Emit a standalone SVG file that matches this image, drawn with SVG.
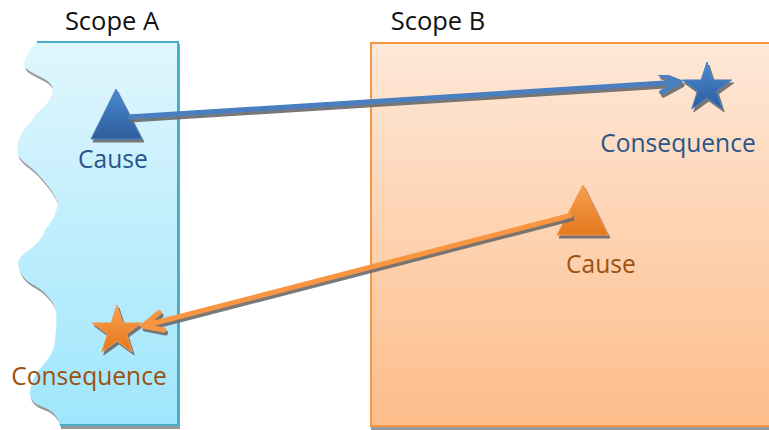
<svg xmlns="http://www.w3.org/2000/svg" width="769" height="430" viewBox="0 0 769 430">
  <defs>
    <style>
      .title { font-family: "Open Sans", "Liberation Sans", sans-serif; font-size: 25.5px; fill: #111111; text-anchor: middle; }
      .lbl { font-family: "Open Sans", "Liberation Sans", sans-serif; font-size: 24.6px; text-anchor: middle; }
      .blue-t { fill: #2a5589; }
      .orange-t { fill: #9e510f; }
      .link { fill: none; stroke-width: 5; stroke-linejoin: round; }
    </style>
    <linearGradient id="gA" x1="0" y1="0" x2="0" y2="1">
      <stop offset="0" stop-color="#e0f6fd"/>
      <stop offset="1" stop-color="#9fe6fc"/>
    </linearGradient>
    <linearGradient id="gB" x1="0" y1="0" x2="0" y2="1">
      <stop offset="0" stop-color="#fee8d8"/>
      <stop offset="1" stop-color="#fdbd8a"/>
    </linearGradient>
    <linearGradient id="gBlue" x1="0" y1="0" x2="0" y2="1">
      <stop offset="0" stop-color="#4a89d2"/>
      <stop offset="1" stop-color="#2d5d9c"/>
    </linearGradient>
    <linearGradient id="gOrange" x1="0" y1="0" x2="0" y2="1">
      <stop offset="0" stop-color="#f9a04f"/>
      <stop offset="1" stop-color="#e3781d"/>
    </linearGradient>
    <filter id="sh" x="-20%" y="-20%" width="140%" height="160%">
      <feDropShadow dx="2" dy="3" stdDeviation="0.7" flood-color="#6a6a6a" flood-opacity="0.9"/>
    </filter>
    <filter id="boxsh" x="-5%" y="-5%" width="110%" height="110%">
      <feDropShadow dx="1" dy="3" stdDeviation="0.6" flood-color="#7f7f7f" flood-opacity="0.8"/>
    </filter>
    <path id="star" d="M0,-26 L5.88,-8.09 L24.73,-8.03 L9.51,3.09 L15.28,21.03 L0,10 L-15.28,21.03 L-9.51,3.09 L-24.73,-8.03 L-5.88,-8.09 Z"/>
    <marker id="headBlue" markerUnits="userSpaceOnUse" orient="auto" markerWidth="40" markerHeight="40" refX="0" refY="0" viewBox="-30 -20 40 40" overflow="visible">
      <path d="M-19,-9 L0,0 L-19,9" fill="none" stroke="#4a7ebf" stroke-width="5" stroke-linecap="round" stroke-linejoin="round"/>
    </marker>
    <marker id="headOrange" markerUnits="userSpaceOnUse" orient="auto" markerWidth="40" markerHeight="40" refX="0" refY="0" viewBox="-30 -20 40 40" overflow="visible">
      <path d="M-19,-9 L0,0 L-19,9" fill="none" stroke="#f7953f" stroke-width="5" stroke-linecap="round" stroke-linejoin="round"/>
    </marker>
  </defs>

  <rect width="769" height="430" fill="#ffffff"/>

  <!-- Scope A: torn-edge panel -->
  <g id="scope-a">
    <g filter="url(#boxsh)">
      <path d="M37,42 H178 V425 H60 C58,416 52,410 43,407 C34,404 29,398 30,393 C31,386 32,380 37,372 C45,364 55,352 55,340 C56,330 57,322 56,312 C55,302 45,292 37,287 C28,282 19,276 18,263 C20,255 28,250 33,247 C38,243 44,235 45,230 C50,224 56,216 58,203 C54,192 45,182 37,173 C30,166 22,162 18,155 C16,146 18,140 23,131 C28,124 34,119 37,113 C45,106 52,100 53,88 C50,80 40,77 33,73 C26,69 22,66 25,60 C28,52 33,46 37,42 Z" fill="url(#gA)"/>
      <path d="M37,42 H178 V425 H60" fill="none" stroke="#4aacc6" stroke-width="2"/>
    </g>
    <text class="title" x="112" y="30">Scope A</text>
  </g>

  <!-- Scope B: plain panel running off the right edge -->
  <g id="scope-b">
    <rect x="371" y="43" width="410" height="383" fill="url(#gB)" stroke="#f79646" stroke-width="2" filter="url(#boxsh)"/>
    <text class="title" x="438" y="30">Scope B</text>
  </g>

  <!-- Nodes -->
  <g id="cause-a">
    <path d="M116,89 L142,139 L91,139 Z" fill="url(#gBlue)" stroke="#4f81bd" stroke-width="1" filter="url(#sh)"/>
    <text class="lbl blue-t" x="113" y="168">Cause</text>
  </g>

  <g id="consequence-b">
    <use href="#star" transform="translate(707,88)" fill="url(#gBlue)" stroke="#4f81bd" stroke-width="1" filter="url(#sh)"/>
    <text class="lbl blue-t" x="678" y="152">Consequence</text>
  </g>

  <g id="cause-b">
    <path d="M583,185 L608,235 L557,235 Z" fill="url(#gOrange)" stroke="#f79646" stroke-width="1" filter="url(#sh)"/>
    <text class="lbl orange-t" x="601" y="273">Cause</text>
  </g>

  <g id="consequence-a">
    <use href="#star" transform="translate(117,331)" fill="url(#gOrange)" stroke="#f79646" stroke-width="1" filter="url(#sh)"/>
    <text class="lbl orange-t" x="89" y="385">Consequence</text>
  </g>

  <!-- Connectors -->
  <g id="connectors">
    <line class="link" x1="128" y1="117" x2="680" y2="82" stroke="#4a7ebf" marker-end="url(#headBlue)" filter="url(#sh)"/>
    <line class="link" x1="572" y1="215" x2="143" y2="326" stroke="#f7953f" marker-end="url(#headOrange)" filter="url(#sh)"/>
  </g>
</svg>
